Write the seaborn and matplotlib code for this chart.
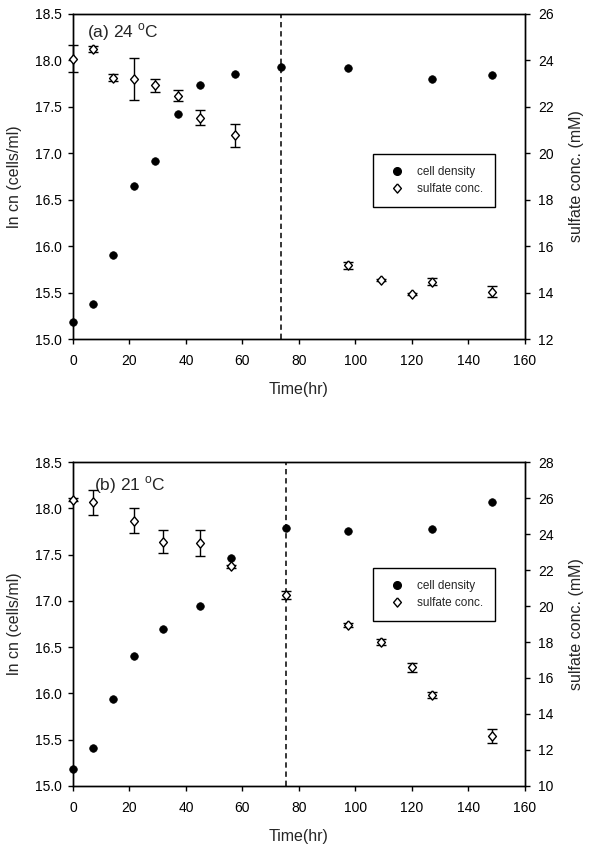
import matplotlib
matplotlib.use("Agg")
import matplotlib.pyplot as plt
import seaborn as sns
from matplotlib.lines import Line2D

# panel (a) 24 C
cell_time_a = [0, 7, 14, 21.5, 29, 37, 45, 57.5, 73.5, 97.5, 127, 148.5]
cell_lncn_a = [15.18, 15.38, 15.9, 16.65, 16.92, 17.42, 17.74, 17.85, 17.93, 17.92, 17.80, 17.84]
sulf_time_a = [0, 7, 14, 21.5, 29, 37, 45, 57.5, 97.5, 109, 120, 127, 148.5]
sulf_conc_a = [24.08, 24.48, 23.26, 23.2, 22.93, 22.48, 21.54, 20.78, 15.17, 14.53, 13.93, 14.47, 14.04]
sulf_err_a = [0.6, 0.12, 0.15, 0.92, 0.28, 0.23, 0.32, 0.5, 0.15, 0.05, 0.05, 0.15, 0.25]
switch_a = 73.5

# panel (b) 21 C
cell_time_b = [0, 7, 14, 21.5, 32, 45, 56, 75.5, 97.5, 127, 148.5]
cell_lncn_b = [15.18, 15.41, 15.94, 16.40, 16.70, 16.94, 17.46, 17.79, 17.76, 17.78, 18.07]
sulf_time_b = [0, 7, 21.5, 32, 45, 56, 75.5, 97.5, 109, 120, 127, 148.5]
sulf_conc_b = [25.91, 25.77, 24.75, 23.58, 23.51, 22.20, 20.61, 18.95, 18.0, 16.6, 15.05, 12.78]
sulf_err_b = [0.1, 0.7, 0.7, 0.63, 0.73, 0.1, 0.2, 0.1, 0.15, 0.25, 0.15, 0.4]
switch_b = 75.5

x_ticks = [0, 20, 40, 60, 80, 100, 120, 140, 160]
lncn_ticks = [15.0, 15.5, 16.0, 16.5, 17.0, 17.5, 18.0, 18.5]
sulf_ticks_a = [12, 14, 16, 18, 20, 22, 24, 26]
sulf_ticks_b = [10, 12, 14, 16, 18, 20, 22, 24, 26, 28]

sns.set_style("ticks")
plt.rcParams["font.family"] = ["Liberation Sans", "DejaVu Sans"]
plt.rcParams["mathtext.fontset"] = "custom"
plt.rcParams["mathtext.rm"] = "Liberation Sans"

DIAMOND = [(0, 1), (0.85, 0), (0, -1), (-0.85, 0), (0, 1)]


def draw_panel(ax, title, title_pos, ct, cy, st, sy, se, switch, sticks, legend_top):
    ax2 = ax.twinx()

    ax.axvline(switch, color="black", lw=1.1, ls=(0, (3.5, 2.5)), zorder=1)
    sns.scatterplot(x=ct, y=cy, ax=ax, color="black", edgecolor="black",
                    linewidth=0.5, s=30, marker="o", zorder=3, clip_on=False)

    ax2.errorbar(st, sy, yerr=se, fmt="none", ecolor="black", elinewidth=1,
                 capsize=3.6, capthick=1, zorder=2, clip_on=False)
    sns.scatterplot(x=st, y=sy, ax=ax2, color="white", edgecolor="black",
                    linewidth=1, s=44, marker=DIAMOND, zorder=3, clip_on=False)

    ax.set_xlim(0, 160)
    ax.set_ylim(15.0, 18.5)
    ax2.set_ylim(sticks[0], sticks[-1])
    ax.set_xticks(x_ticks)
    ax.set_yticks(lncn_ticks)
    ax.set_yticklabels([f"{v:.1f}" for v in lncn_ticks])
    ax2.set_yticks(sticks)

    ax.set_xlabel("Time(hr)", fontsize=11.5, labelpad=10)
    ax.set_ylabel("ln cn (cells/ml)", fontsize=11.5, labelpad=9)
    ax2.set_ylabel("sulfate conc. (mM)", fontsize=11.5, labelpad=11)

    ax.tick_params(axis="x", direction="out", length=3.6, width=1, pad=7.5,
                   labelsize=10, colors="black", top=False)
    ax.tick_params(axis="y", direction="out", length=3.6, width=1, pad=4.5,
                   labelsize=10, colors="black", right=False)
    ax2.tick_params(axis="y", direction="out", length=3.6, width=1, pad=6,
                    labelsize=10, colors="black")
    for a in (ax, ax2):
        for sp in a.spines.values():
            sp.set_visible(True)
            sp.set_color("black")
            sp.set_linewidth(1)

    ax.text(title_pos[0], title_pos[1], title, transform=ax.transAxes,
            fontsize=12.5, ha="left", va="center")

    handles = [
        Line2D([], [], ls="none", marker="o", color="black", markersize=5.5),
        Line2D([], [], ls="none", marker=DIAMOND, markerfacecolor="white",
               markeredgecolor="black", markeredgewidth=1, markersize=6.6),
    ]
    leg = ax2.legend(handles, ["cell density", "sulfate conc."], loc="upper left",
                     bbox_to_anchor=(0.664, legend_top), borderaxespad=0,
                     borderpad=1.0, handlelength=2.0, handletextpad=0.7,
                     labelspacing=0.45, fontsize=8.5, frameon=True,
                     fancybox=False, framealpha=1, edgecolor="black")
    leg.get_frame().set_linewidth(1)


fig = plt.figure(figsize=(5.91, 8.52), dpi=100)
ax_a = fig.add_axes([0.1235, 0.6021, 0.7648, 0.3815])
ax_b = fig.add_axes([0.1235, 0.0775, 0.7648, 0.3802])

draw_panel(ax_a, r"(a) 24 $^{\mathrm{o}}$C", (0.031, 0.945),
           cell_time_a, cell_lncn_a, sulf_time_a, sulf_conc_a, sulf_err_a,
           switch_a, sulf_ticks_a, 0.569)
draw_panel(ax_b, r"(b) 21 $^{\mathrm{o}}$C", (0.046, 0.929),
           cell_time_b, cell_lncn_b, sulf_time_b, sulf_conc_b, sulf_err_b,
           switch_b, sulf_ticks_b, 0.673)

fig.savefig("out.png", dpi=100, facecolor="white")
